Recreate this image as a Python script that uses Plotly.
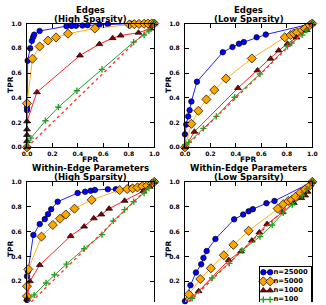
import plotly.graph_objects as go

W, H = 326, 305

# ---------------- data ----------------
series_labels = ["n=25000", "n=5000", "n=1000", "n=100"]
tick_vals = [0.0, 0.2, 0.4, 0.6, 0.8, 1.0]
tick_text = ["0.0", "0.2", "0.4", "0.6", "0.8", "1.0"]

# Edges, High Sparsity
e_hi_n25000_fpr = [0, 0, 0, 0.005, 0.025, 0.038, 0.048, 0.056, 0.099, 0.31, 0.35, 0.385, 0.435, 0.475, 0.57, 0.635, 0.81, 0.84, 0.88, 0.92, 0.96, 1.0]
e_hi_n25000_tpr = [0, 0.30, 0.32, 0.70, 0.80, 0.86, 0.89, 0.91, 0.94, 0.979, 0.981, 0.982, 0.984, 0.987, 0.992, 0.995, 1, 1, 1, 1, 1, 1]
e_hi_n5000_fpr = [0, 0, 0.043, 0.10, 0.165, 0.228, 0.322, 0.533, 0.805, 0.843, 0.88, 0.92, 0.95, 0.98, 1.0]
e_hi_n5000_tpr = [0, 0.355, 0.716, 0.815, 0.863, 0.888, 0.918, 0.96, 0.992, 0.995, 0.997, 0.998, 1, 1, 1]
e_hi_n1000_fpr = [0, 0, 0, 0, 0, 0.078, 0.416, 0.569, 0.673, 0.736, 0.876, 0.97, 1.0]
e_hi_n1000_tpr = [0, 0.05, 0.10, 0.145, 0.21, 0.445, 0.742, 0.834, 0.882, 0.903, 0.926, 0.96, 1.0]
e_hi_n100_fpr = [0, 0.03, 0.145, 0.246, 0.392, 0.589, 0.838, 0.92, 0.957, 1.0]
e_hi_n100_tpr = [0.013, 0.074, 0.215, 0.324, 0.457, 0.63, 0.85, 0.908, 0.94, 1.0]

# Edges, Low Sparsity
e_lo_n25000_fpr = [0, 0, 0.01, 0.025, 0.036, 0.05, 0.094, 0.297, 0.373, 0.424, 0.462, 0.563, 0.635, 1.0]
e_lo_n25000_tpr = [0, 0.105, 0.184, 0.25, 0.30, 0.37, 0.53, 0.768, 0.81, 0.837, 0.85, 0.889, 0.911, 1.0]
e_lo_n5000_fpr = [0, 0.05, 0.105, 0.168, 0.23, 0.322, 0.525, 0.784, 0.83, 0.855, 0.88, 0.92, 0.944, 0.98, 1.0]
e_lo_n5000_tpr = [0, 0.19, 0.295, 0.387, 0.463, 0.555, 0.718, 0.889, 0.908, 0.92, 0.93, 0.947, 0.96, 0.987, 1.0]
e_lo_n1000_fpr = [0, 0.074, 0.416, 0.569, 0.673, 0.736, 0.805, 0.876, 0.957, 1.0]
e_lo_n1000_tpr = [0, 0.126, 0.479, 0.621, 0.716, 0.782, 0.837, 0.887, 0.947, 1.0]
e_lo_n100_fpr = [0, 0.03, 0.145, 0.246, 0.39, 0.589, 0.805, 0.838, 0.92, 0.957, 1.0]
e_lo_n100_tpr = [0.02, 0.04, 0.153, 0.25, 0.405, 0.592, 0.816, 0.842, 0.908, 0.947, 1.0]

# Within-Edge Parameters, High Sparsity
w_hi_n25000_fpr = [0, 0, 0.008, 0.05, 0.10, 0.14, 0.165, 0.19, 0.241, 0.398, 0.457, 0.5, 0.533, 0.635, 0.698, 0.822, 0.893, 0.944, 1.0]
w_hi_n25000_tpr = [0.05, 0.24, 0.28, 0.573, 0.66, 0.70, 0.74, 0.78, 0.84, 0.91, 0.92, 0.928, 0.934, 0.94, 0.94, 0.95, 0.962, 0.97, 1.0]
w_hi_n5000_fpr = [0, 0, 0.01, 0.114, 0.203, 0.259, 0.305, 0.373, 0.508, 0.728, 0.787, 0.83, 0.868, 0.906, 0.944, 0.98, 1.0]
w_hi_n5000_tpr = [0.08, 0.16, 0.296, 0.559, 0.653, 0.703, 0.737, 0.784, 0.855, 0.934, 0.942, 0.947, 0.955, 0.965, 0.97, 0.985, 1.0]
w_hi_n1000_fpr = [0, 0, 0.023, 0.10, 0.343, 0.449, 0.525, 0.584, 0.645, 0.767, 0.914, 0.964, 1.0]
w_hi_n1000_tpr = [0.02, 0.055, 0.2, 0.33, 0.564, 0.64, 0.706, 0.737, 0.784, 0.847, 0.926, 0.96, 1.0]
w_hi_n100_fpr = [0.005, 0.056, 0.15, 0.216, 0.31, 0.449, 0.589, 0.678, 0.767, 0.838, 0.92, 0.957, 1.0]
w_hi_n100_tpr = [0.03, 0.09, 0.186, 0.252, 0.338, 0.462, 0.575, 0.685, 0.776, 0.84, 0.91, 0.95, 1.0]

# Within-Edge Parameters, Low Sparsity
w_lo_n25000_fpr = [0, 0.043, 0.086, 0.127, 0.145, 0.17, 0.239, 0.386, 0.457, 0.5, 0.533, 0.64, 0.703, 1.0]
w_lo_n25000_tpr = [0.04, 0.168, 0.27, 0.336, 0.388, 0.443, 0.54, 0.698, 0.737, 0.763, 0.78, 0.828, 0.846, 1.0]
w_lo_n5000_fpr = [0, 0.03, 0.12, 0.203, 0.305, 0.38, 0.5, 0.728, 0.772, 0.812, 0.838, 0.868, 0.906, 0.944, 0.98, 1.0]
w_lo_n5000_tpr = [0.03, 0.094, 0.218, 0.304, 0.409, 0.493, 0.606, 0.784, 0.82, 0.846, 0.855, 0.88, 0.913, 0.94, 0.97, 1.0]
w_lo_n1000_fpr = [0.005, 0.107, 0.343, 0.44, 0.525, 0.584, 0.645, 0.767, 0.855, 0.914, 0.944, 0.964, 1.0]
w_lo_n1000_tpr = [0.03, 0.12, 0.37, 0.44, 0.527, 0.593, 0.66, 0.755, 0.83, 0.87, 0.89, 0.92, 1.0]
w_lo_n100_fpr = [0.01, 0.056, 0.213, 0.348, 0.449, 0.589, 0.685, 0.772, 0.843, 0.92, 0.96, 1.0]
w_lo_n100_tpr = [0.024, 0.063, 0.226, 0.344, 0.449, 0.559, 0.653, 0.75, 0.816, 0.89, 0.94, 1.0]

diag = [0.0, 1.0]

panels = [
    ("Edges", "(High Sparsity)",
     [(e_hi_n25000_fpr, e_hi_n25000_tpr), (e_hi_n5000_fpr, e_hi_n5000_tpr),
      (e_hi_n1000_fpr, e_hi_n1000_tpr), (e_hi_n100_fpr, e_hi_n100_tpr)]),
    ("Edges", "(Low Sparsity)",
     [(e_lo_n25000_fpr, e_lo_n25000_tpr), (e_lo_n5000_fpr, e_lo_n5000_tpr),
      (e_lo_n1000_fpr, e_lo_n1000_tpr), (e_lo_n100_fpr, e_lo_n100_tpr)]),
    ("Within-Edge Parameters", "(High Sparsity)",
     [(w_hi_n25000_fpr, w_hi_n25000_tpr), (w_hi_n5000_fpr, w_hi_n5000_tpr),
      (w_hi_n1000_fpr, w_hi_n1000_tpr), (w_hi_n100_fpr, w_hi_n100_tpr)]),
    ("Within-Edge Parameters", "(Low Sparsity)",
     [(w_lo_n25000_fpr, w_lo_n25000_tpr), (w_lo_n5000_fpr, w_lo_n5000_tpr),
      (w_lo_n1000_fpr, w_lo_n1000_tpr), (w_lo_n100_fpr, w_lo_n100_tpr)]),
]

# ---------------- styles ----------------
FONT = "DejaVu Sans"
styles = [
    dict(line=dict(color="#2222ff", width=1),
         marker=dict(symbol="circle", size=5.5, color="#0000ff", line=dict(color="black", width=0.7))),
    dict(line=dict(color="#ffb020", width=1),
         marker=dict(symbol="diamond", size=7, color="#ffa500", line=dict(color="black", width=0.7))),
    dict(line=dict(color="#ff2020", width=1),
         marker=dict(symbol="triangle-up", size=6, color="#8b0000", line=dict(color="black", width=0.7))),
    dict(line=dict(color="#22a022", width=1),
         marker=dict(symbol="cross-thin", size=4.5, color="#22a022", line=dict(color="#22a022", width=1.4))),
]

def px_x(p):
    return p / W

def px_y(p):
    return (H - p) / H

xdoms = [[px_x(22.7), px_x(154)], [px_x(185.7), px_x(317)]]
ydom_top = [px_y(146.7), px_y(20)]
ydom_bot = [0, px_y(182)]
bot_ymin = (309.2 - 305) / 127.2

fig = go.Figure()

for i, (t1, t2, curves) in enumerate(panels):
    k = "" if i == 0 else str(i + 1)
    for (fx, ty), st in zip(curves, styles):
        fig.add_trace(go.Scatter(x=fx, y=ty, mode="lines+markers", xaxis="x" + k, yaxis="y" + k,
                                 line=st["line"], marker=st["marker"], cliponaxis=False,
                                 showlegend=False, hoverinfo="skip"))
    fig.add_trace(go.Scatter(x=diag, y=diag, mode="lines", xaxis="x" + k, yaxis="y" + k,
                             line=dict(color="#ff3030", width=1.3, dash="dot"),
                             showlegend=False, hoverinfo="skip"))

tickfont = dict(family=FONT, size=6, color="black", weight="bold")
common = dict(showgrid=False, zeroline=False, ticks="inside", ticklen=4, tickwidth=1,
              tickcolor="black", showline=True, linecolor="black", linewidth=1,
              tickfont=tickfont, tickvals=tick_vals, ticktext=tick_text)

layout_axes = {}
for i in range(4):
    k = "" if i == 0 else str(i + 1)
    top = i < 2
    xd = xdoms[i % 2]
    yd = ydom_top if top else ydom_bot
    xa = dict(common, domain=xd, anchor="y" + k, range=[0, 1])
    ya = dict(common, domain=yd, anchor="x" + k, mirror="ticks", ticklabelstandoff=3)
    if top:
        xa["mirror"] = "ticks"
        ya["range"] = [0, 1]
    else:
        xa["side"] = "top"
        xa["showticklabels"] = False
        ya["range"] = [bot_ymin, 1]
        ya["tickvals"] = tick_vals[1:]
        ya["ticktext"] = tick_text[1:]
    layout_axes["xaxis" + k] = xa
    layout_axes["yaxis" + k] = ya

# legend drawn as a small boxed sub-axes
leg_rows = list(range(len(series_labels)))
for r, (lab, st) in enumerate(zip(series_labels, styles)):
    fig.add_trace(go.Scatter(x=[3.5, 10.5], y=[r, r], mode="lines+markers", xaxis="x5", yaxis="y5",
                             line=st["line"], marker=st["marker"], cliponaxis=False,
                             showlegend=False, hoverinfo="skip"))
fig.add_trace(go.Scatter(x=[14] * len(series_labels), y=leg_rows, mode="text", text=series_labels,
                         textposition="middle right", xaxis="x5", yaxis="y5",
                         textfont=dict(family=FONT, size=6.8, color="black", weight="bold"),
                         cliponaxis=False, showlegend=False, hoverinfo="skip"))
layout_axes["xaxis5"] = dict(domain=[px_x(263), px_x(316)], anchor="y5", range=[0, 53], side="top",
                             showline=True, linecolor="black", linewidth=0.8, showgrid=False,
                             zeroline=False, showticklabels=False, ticks="")
layout_axes["yaxis5"] = dict(domain=[0, px_y(269)], anchor="x5", range=[3.27, -0.6],
                             showline=True, mirror=True, linecolor="black", linewidth=0.8,
                             showgrid=False, zeroline=False, showticklabels=False, ticks="")

ann = []
tfont = dict(family=FONT, size=8.5, color="black", weight="bold")
lfont = dict(family=FONT, size=7.5, color="black", weight="bold")
centers = [(22.7 + 154) / 2, (185.7 + 317) / 2]
for i, (t1, t2, _) in enumerate(panels):
    cx = centers[i % 2]
    y1, y2 = (6, 15) if i < 2 else (168, 177)
    ann.append(dict(text=t1, x=px_x(cx), y=px_y(y1), xref="paper", yref="paper",
                    showarrow=False, font=tfont, xanchor="center", yanchor="middle"))
    ann.append(dict(text=t2, x=px_x(cx), y=px_y(y2), xref="paper", yref="paper",
                    showarrow=False, font=tfont, xanchor="center", yanchor="middle"))
    lx = 5 if i % 2 == 0 else 168
    ly = 82 if i < 2 else 250
    ann.append(dict(text="TPR", x=px_x(lx), y=px_y(ly), xref="paper", yref="paper", textangle=-90,
                    showarrow=False, font=lfont, xanchor="center", yanchor="middle"))
    if i < 2:
        ann.append(dict(text="FPR", x=px_x(cx), y=px_y(159), xref="paper", yref="paper",
                        showarrow=False, font=lfont, xanchor="center", yanchor="middle"))

fig.update_layout(width=W, height=H, autosize=False, margin=dict(l=0, r=0, t=0, b=0, pad=0),
                  paper_bgcolor="white", plot_bgcolor="white", showlegend=False,
                  annotations=ann, **layout_axes)

fig.write_html("out.html", config={"displayModeBar": False},
               post_script="document.body.style.margin='0';document.body.style.overflow='hidden';")
